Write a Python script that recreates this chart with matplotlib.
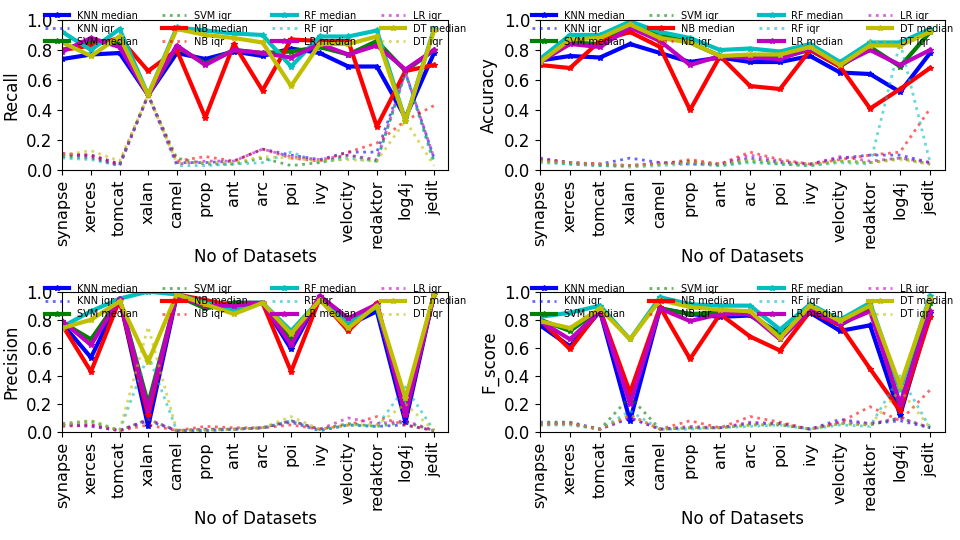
import numpy as np
import matplotlib
matplotlib.use("Agg")
import matplotlib.pyplot as plt

datasets = ["synapse", "xerces", "tomcat", "xalan", "camel", "prop", "ant", "arc",
            "poi", "ivy", "velocity", "redaktor", "log4j", "jedit"]
learners = ["KNN", "SVM", "NB", "RF", "LR", "DT"]
colors = ["#0000ff", "#008000", "#ff0000", "#00bfbf", "#bf00bf", "#bfbf00"]

recall_median = {
    "KNN": [0.74, 0.77, 0.78, 0.50, 0.78, 0.74, 0.79, 0.76, 0.81, 0.78, 0.69, 0.69, 0.35, 0.78],
    "SVM": [0.80, 0.86, 0.84, 0.50, 0.82, 0.71, 0.80, 0.78, 0.79, 0.82, 0.77, 0.86, 0.66, 0.80],
    "NB": [0.80, 0.83, 0.88, 0.66, 0.80, 0.35, 0.84, 0.53, 0.87, 0.86, 0.86, 0.29, 0.66, 0.70],
    "RF": [0.92, 0.80, 0.94, 0.50, 0.95, 0.93, 0.91, 0.90, 0.69, 0.89, 0.89, 0.93, 0.33, 0.94],
    "LR": [0.79, 0.88, 0.82, 0.50, 0.83, 0.70, 0.80, 0.78, 0.75, 0.84, 0.77, 0.83, 0.67, 0.80],
    "DT": [0.85, 0.76, 0.89, 0.50, 0.94, 0.90, 0.88, 0.85, 0.56, 0.84, 0.84, 0.89, 0.33, 0.93],
}
recall_iqr = {
    "KNN": [0.10, 0.10, 0.04, 0.50, 0.05, 0.05, 0.06, 0.14, 0.10, 0.07, 0.12, 0.12, 0.65, 0.08],
    "SVM": [0.09, 0.08, 0.03, 0.50, 0.08, 0.04, 0.04, 0.08, 0.03, 0.05, 0.10, 0.06, 0.65, 0.06],
    "NB": [0.11, 0.10, 0.04, 0.50, 0.06, 0.09, 0.06, 0.14, 0.08, 0.06, 0.12, 0.18, 0.33, 0.43],
    "RF": [0.08, 0.07, 0.03, 0.50, 0.03, 0.03, 0.04, 0.05, 0.12, 0.05, 0.08, 0.06, 0.65, 0.04],
    "LR": [0.11, 0.09, 0.03, 0.50, 0.04, 0.06, 0.06, 0.14, 0.09, 0.07, 0.10, 0.07, 0.65, 0.08],
    "DT": [0.10, 0.13, 0.06, 0.50, 0.05, 0.05, 0.05, 0.09, 0.08, 0.06, 0.07, 0.06, 0.33, 0.03],
}

accuracy_median = {
    "KNN": [0.73, 0.76, 0.75, 0.84, 0.78, 0.72, 0.75, 0.72, 0.72, 0.76, 0.65, 0.64, 0.52, 0.78],
    "SVM": [0.72, 0.85, 0.84, 0.97, 0.90, 0.85, 0.76, 0.75, 0.75, 0.80, 0.69, 0.82, 0.69, 0.92],
    "NB": [0.70, 0.68, 0.86, 0.92, 0.82, 0.40, 0.76, 0.56, 0.54, 0.80, 0.69, 0.41, 0.54, 0.68],
    "RF": [0.74, 0.90, 0.90, 0.99, 0.92, 0.88, 0.80, 0.81, 0.79, 0.84, 0.72, 0.85, 0.85, 0.94],
    "LR": [0.72, 0.84, 0.82, 0.95, 0.86, 0.70, 0.76, 0.75, 0.74, 0.81, 0.70, 0.80, 0.70, 0.80],
    "DT": [0.72, 0.87, 0.88, 0.97, 0.88, 0.85, 0.76, 0.77, 0.77, 0.82, 0.70, 0.83, 0.83, 0.92],
}
accuracy_iqr = {
    "KNN": [0.08, 0.05, 0.04, 0.08, 0.05, 0.04, 0.04, 0.08, 0.05, 0.04, 0.08, 0.10, 0.10, 0.05],
    "SVM": [0.06, 0.04, 0.03, 0.03, 0.04, 0.06, 0.03, 0.06, 0.04, 0.03, 0.06, 0.05, 0.08, 0.04],
    "NB": [0.07, 0.05, 0.04, 0.03, 0.04, 0.07, 0.04, 0.12, 0.07, 0.04, 0.07, 0.10, 0.12, 0.41],
    "RF": [0.05, 0.04, 0.03, 0.02, 0.03, 0.04, 0.03, 0.05, 0.04, 0.03, 0.05, 0.04, 0.85, 0.05],
    "LR": [0.07, 0.05, 0.04, 0.03, 0.05, 0.05, 0.04, 0.10, 0.06, 0.04, 0.09, 0.06, 0.08, 0.05],
    "DT": [0.06, 0.05, 0.04, 0.03, 0.04, 0.05, 0.04, 0.07, 0.05, 0.04, 0.06, 0.05, 0.07, 0.04],
}

precision_median = {
    "KNN": [0.77, 0.53, 0.95, 0.04, 0.97, 0.90, 0.92, 0.92, 0.59, 0.96, 0.76, 0.86, 0.07, 0.98],
    "SVM": [0.78, 0.66, 0.95, 0.20, 0.97, 0.88, 0.92, 0.92, 0.66, 0.95, 0.79, 0.90, 0.15, 0.98],
    "NB": [0.76, 0.43, 0.94, 0.12, 0.98, 0.94, 0.90, 0.92, 0.43, 0.95, 0.72, 0.92, 0.12, 0.98],
    "RF": [0.75, 0.86, 0.95, 1.00, 0.98, 0.92, 0.87, 0.92, 0.72, 0.94, 0.78, 0.89, 0.20, 0.98],
    "LR": [0.79, 0.62, 0.95, 0.16, 0.97, 0.90, 0.90, 0.92, 0.62, 0.97, 0.81, 0.91, 0.13, 0.98],
    "DT": [0.74, 0.80, 0.93, 0.50, 0.98, 0.91, 0.84, 0.92, 0.70, 0.94, 0.74, 0.90, 0.24, 0.98],
}
precision_iqr = {
    "KNN": [0.05, 0.04, 0.01, 0.08, 0.01, 0.01, 0.02, 0.03, 0.07, 0.01, 0.05, 0.04, 0.05, 0.01],
    "SVM": [0.06, 0.08, 0.01, 0.09, 0.01, 0.02, 0.02, 0.03, 0.08, 0.02, 0.06, 0.04, 0.07, 0.01],
    "NB": [0.04, 0.05, 0.01, 0.05, 0.01, 0.04, 0.03, 0.03, 0.05, 0.02, 0.05, 0.11, 0.05, 0.01],
    "RF": [0.05, 0.07, 0.01, 0.55, 0.01, 0.01, 0.02, 0.03, 0.08, 0.01, 0.05, 0.04, 0.32, 0.01],
    "LR": [0.05, 0.05, 0.01, 0.09, 0.01, 0.02, 0.02, 0.03, 0.08, 0.02, 0.10, 0.06, 0.08, 0.01],
    "DT": [0.05, 0.08, 0.01, 0.75, 0.01, 0.01, 0.02, 0.03, 0.11, 0.02, 0.05, 0.05, 0.20, 0.01],
}

fscore_median = {
    "KNN": [0.76, 0.61, 0.86, 0.08, 0.88, 0.84, 0.82, 0.83, 0.70, 0.85, 0.72, 0.76, 0.12, 0.85],
    "SVM": [0.80, 0.72, 0.87, 0.22, 0.88, 0.84, 0.85, 0.84, 0.69, 0.87, 0.76, 0.88, 0.18, 0.92],
    "NB": [0.80, 0.59, 0.87, 0.28, 0.89, 0.52, 0.84, 0.68, 0.58, 0.86, 0.76, 0.45, 0.15, 0.82],
    "RF": [0.82, 0.85, 0.90, 0.66, 0.96, 0.91, 0.90, 0.90, 0.73, 0.91, 0.80, 0.92, 0.30, 0.97],
    "LR": [0.79, 0.66, 0.86, 0.20, 0.88, 0.79, 0.84, 0.84, 0.66, 0.87, 0.77, 0.86, 0.20, 0.86],
    "DT": [0.79, 0.74, 0.88, 0.66, 0.94, 0.89, 0.87, 0.86, 0.67, 0.90, 0.79, 0.90, 0.33, 0.95],
}
fscore_iqr = {
    "KNN": [0.07, 0.07, 0.02, 0.10, 0.02, 0.03, 0.03, 0.06, 0.06, 0.02, 0.09, 0.06, 0.08, 0.03],
    "SVM": [0.06, 0.06, 0.02, 0.25, 0.02, 0.03, 0.03, 0.05, 0.05, 0.02, 0.06, 0.05, 0.10, 0.03],
    "NB": [0.05, 0.06, 0.02, 0.12, 0.02, 0.08, 0.03, 0.11, 0.07, 0.02, 0.07, 0.18, 0.08, 0.30],
    "RF": [0.05, 0.05, 0.02, 0.15, 0.02, 0.02, 0.03, 0.04, 0.05, 0.02, 0.05, 0.04, 0.40, 0.03],
    "LR": [0.06, 0.06, 0.02, 0.10, 0.02, 0.04, 0.03, 0.07, 0.06, 0.02, 0.07, 0.06, 0.10, 0.03],
    "DT": [0.06, 0.06, 0.02, 0.12, 0.02, 0.03, 0.03, 0.05, 0.06, 0.02, 0.06, 0.05, 0.30, 0.03],
}

panels = [
    ("Recall", recall_median, recall_iqr, [0.065, 0.685, 0.402, 0.278]),
    ("Accuracy", accuracy_median, accuracy_iqr, [0.5625, 0.685, 0.422, 0.278]),
    ("Precision", precision_median, precision_iqr, [0.065, 0.2, 0.402, 0.26]),
    ("F_score", fscore_median, fscore_iqr, [0.5625, 0.2, 0.422, 0.26]),
]

fig = plt.figure(figsize=(9.6, 5.4), dpi=100)
x = np.arange(len(datasets))

for name, med, iqr, rect in panels:
    ax = fig.add_axes(rect)
    for learner, col in zip(learners, colors):
        ax.plot(x, med[learner], color=col, lw=3, marker="*", markersize=4,
                markeredgecolor=col, label=f"{learner} median")
        ax.plot(x, iqr[learner], color=col, lw=2, ls=":", alpha=0.6,
                label=f"{learner} iqr")
    ax.set_xlim(0, 13.5)
    ax.set_ylim(0, 1.0)
    ax.set_yticks(np.arange(0, 1.01, 0.2))
    ax.set_xticks(x)
    ax.set_xticklabels(datasets, rotation=90, fontsize=11.5)
    ax.tick_params(axis="y", labelsize=12)
    ax.set_ylabel(name, fontsize=12)
    ax.set_xlabel("No of Datasets", fontsize=12, labelpad=0)
    ax.legend(loc="upper center", bbox_to_anchor=(0.5, 1.12), ncol=4,
              fontsize=7, frameon=False, handlelength=2.5,
              labelspacing=0.3, columnspacing=2.5)

fig.savefig("out.png", dpi=100)
